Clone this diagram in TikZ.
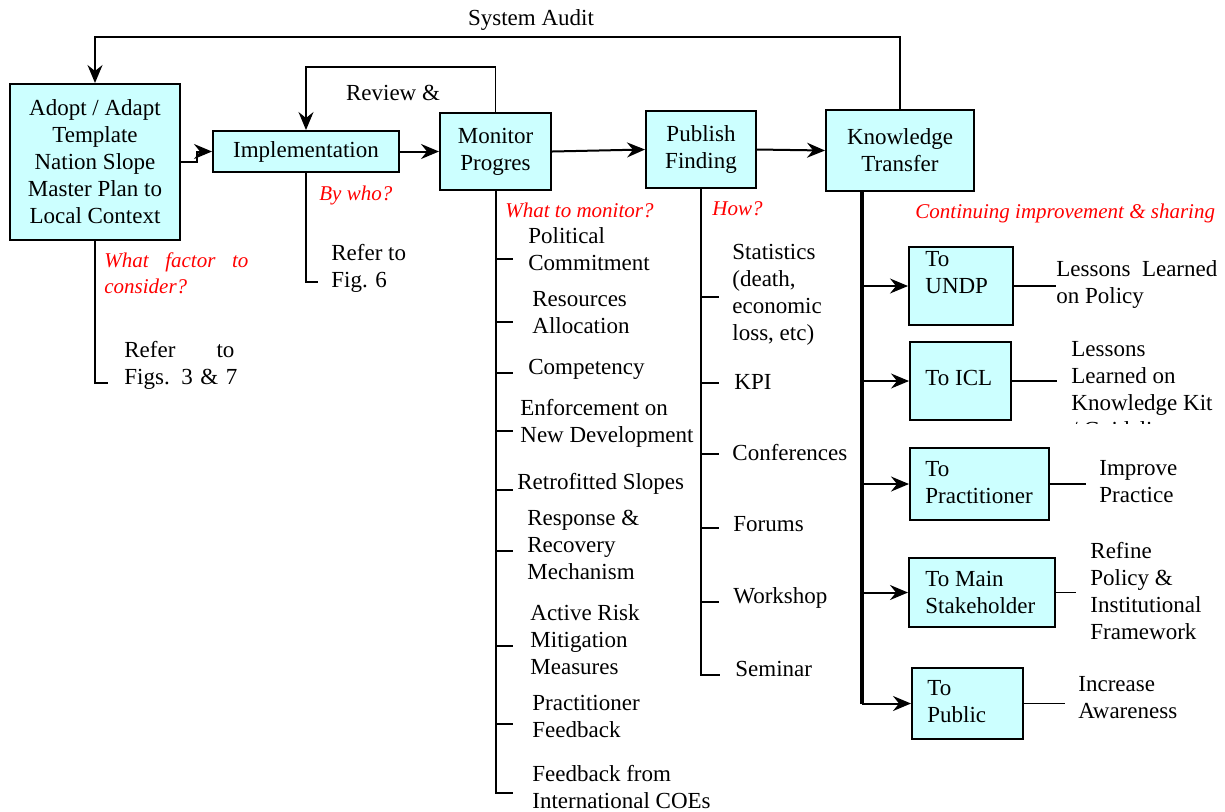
\documentclass[tikz,border=0pt]{standalone}
\usepackage{fontspec}
\setmainfont{Liberation Serif}
\usepackage{xcolor}
\usetikzlibrary{arrows.meta, calc, positioning}
\definecolor{boxcyan}{HTML}{CCFFFF}
\tikzset{
  box/.style={draw, line width=1pt, fill=boxcyan, inner sep=2pt, align=center},
  txt/.style={inner sep=0pt, align=left, anchor=west},
  ask/.style={txt, text=red, font=\fontsize{10.5}{13}\selectfont\itshape},
  flow/.style={-{Stealth[length=9pt,width=7.5pt,inset=3pt]}, line width=1pt},
  thinflow/.style={-{Stealth[length=9pt,width=7.5pt,inset=3pt]}, line width=0.6pt},
  stem/.style={line width=1pt},
}

\begin{document}
\begin{tikzpicture}[x=0.5pt, y=-0.5pt, every node/.style={font=\fontsize{11.5}{13.5}\selectfont}]
    \useasboundingbox (0,0) rectangle (1225,811);

    % 主流程
    \node[box, minimum width=85pt, minimum height=78pt] (adopt) at (95,162) {Adopt / Adapt\\Template\\Nation Slope\\Master Plan to\\Local Context};
    \node[box, minimum width=93pt, minimum height=20.5pt] (impl) at (306,151.5) {Implementation};
    \node[box, minimum width=55.5pt, minimum height=38.5pt] (mon) at (495.5,151.5) {Monitor\\Progres};
    \node[box, minimum width=55pt, minimum height=38.5pt] (pub) at (701,149.5) {Publish\\Finding};
    \node[box, minimum width=74pt, minimum height=40.5pt] (know) at (900,150.5) {Knowledge\\Transfer};

    \draw[flow] (adopt.east) -- ++(16,0) |- (impl.west);
    \draw[flow] (impl.east) -- (mon.west);
    \draw[flow] (mon.east) -- (pub.west);
    \draw[flow] (pub.east) -- (know.west);

    % 反馈
    \node (audit) at (531,20) {System Audit};
    \draw[flow] (know.north) -- (know.north |- 0,37) -- (adopt.north |- 0,37) -- (adopt.north);
    \node (review) at (393,93) {Review \&};
    \draw[thinflow] (mon.north) -- (mon.north |- 0,67) -- (impl.north |- 0,67) -- (impl.north);

    % Adopt 分支
    \node[ask, text width=72pt] (factor) at (104,273) {What\hfill factor\hfill to\\consider?};
    \coordinate (adoptend) at (108,383);
    \draw[stem] (adopt.south) |- (adoptend);
    \node[txt, text width=55pt] (ref37) at (124,365) {Refer\hfill to\\\mbox{Figs. 3 \& 7}};

    % Implementation 分支
    \node[ask] (bywho) at (319,195) {By who?};
    \coordinate (implend) at (318,282);
    \draw[stem] (impl.south) |- (implend);
    \node[txt] (ref6) at (331,268) {Refer to\\Fig. 6};

    % Monitor 列表
    \node[ask] (whatmon) at (505,210) {What to monitor?};
    \coordinate (monend) at (513,793);
    \draw[stem] (mon.south) |- (monend);
    \foreach \ty/\tx/\tc/\ttext [count=\i] in {
        259/528/249.5/{Political\\Commitment},
        322/532/313/{Resources\\Allocation},
        373/528/369/{Competency},
        431/520/423.5/{Enforcement on\\New Development},
        490/517/484/{Retrofitted Slopes},
        551/527/545/{Response \&\\Recovery\\Mechanism},
        646/530/640/{Active Risk\\Mitigation\\Measures},
        724/532/716.5/{Practitioner\\Feedback},
        793/532/786.5/{Feedback from\\International COEs}} {
      \draw[stem] (mon.south |- 0,\ty) -- ++(17,0);
      \node[txt] (mitem\i) at (\tx,\tc) {\ttext};
    }

    % Publish 列表
    \node[ask] (how) at (712,209) {How?};
    \coordinate (pubend) at (720,675);
    \draw[stem] (pub.south) |- (pubend);
    \foreach \ty/\tx/\tc/\ttext [count=\i] in {
        297/732/294.5/{Statistics\\(death,\\economic\\loss, etc)},
        383/734/382/{KPI},
        454/732/452/{Conferences},
        528/733/524/{Forums},
        602/733/598/{Workshop},
        675/735/669/{Seminar}} {
      \draw[stem] (pub.south |- 0,\ty) -- ++(18,0);
      \node[txt] (pitem\i) at (\tx,\tc) {\ttext};
    }

    % Knowledge 分支
    \node[ask] (cont) at (915,213) {Continuing improvement \& sharing};
    \coordinate (ktop) at (862,191);
    \node[box, minimum width=52pt, minimum height=39pt] (undp) at (961,286) {};
    \node[txt] (undptxt) at (925,273) {To\\UNDP};
    \node[box, minimum width=50.5pt, minimum height=39pt] (icl) at (960.5,381) {};
    \node[txt] (icltxt) at (925,378) {To ICL};
    \node[box, minimum width=69.5pt, minimum height=36pt] (prac) at (979.5,484) {};
    \node[txt] (practxt) at (925,482.5) {To\\Practitioner};
    \node[box, minimum width=73pt, minimum height=34.5pt] (stake) at (982,592.5) {};
    \node[txt] (staketxt) at (925,592) {To Main\\Stakeholder};
    \node[box, minimum width=55.5pt, minimum height=35.5pt] (public) at (967.5,703.5) {};
    \node[txt] (publictxt) at (927,702) {To\\Public};

    \draw[line width=1.6pt] (ktop) -- (ktop |- public);
    \draw[thinflow] (ktop |- undp) -- (undp.west);
    \draw[thinflow] (ktop |- icl) -- (icl.west);
    \draw[flow] (ktop |- prac) -- (prac.west);
    \draw[flow] (ktop |- stake) -- (stake.west);
    \draw[flow] (ktop |- public) -- (public.west);

    % 成果
    \node[txt] (out1) at (1056,284) {Lessons~~Learned\\on Policy};
    \draw[line width=0.8pt] (undp.east) -- (undp.east -| out1.west);
    \begin{scope}
      \clip (1040,330) rectangle (1225,423);
      \node[txt] (out2) at (1071,390) {Lessons\\Learned on\\Knowledge Kit\\/ Guidelines};
    \end{scope}
    \coordinate (out2end) at (1057,381);
    \draw[line width=0.8pt] (icl.east) -- (out2end);
    \node[txt] (out3) at (1099,482) {Improve\\Practice};
    \coordinate (out3end) at (1086,484);
    \draw[line width=0.8pt] (prac.east) -- (out3end);
    \node[txt] (out4) at (1090,590.5) {Refine\\Policy \&\\Institutional\\Framework};
    \coordinate (out4end) at (1076,592.5);
    \draw[line width=0.8pt] (stake.east) -- (out4end);
    \node[txt] (out5) at (1078,698) {Increase\\Awareness};
    \coordinate (out5end) at (1065,703.5);
    \draw[line width=0.8pt] (public.east) -- (out5end);
\end{tikzpicture}
\end{document}
